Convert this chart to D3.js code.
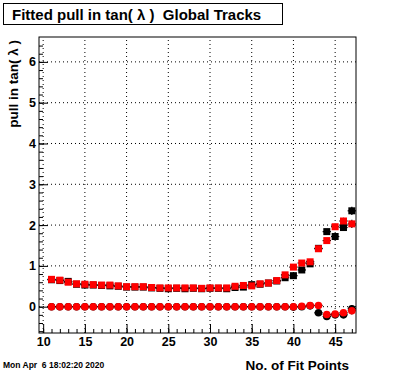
<!DOCTYPE html>
<html>
<head>
<meta charset="utf-8">
<script src="https://cdn.jsdelivr.net/npm/d3@7"></script>
<style>
  body { margin: 0; background: #fff; }
  svg { display: block; font-family: "Liberation Sans", Arial, sans-serif; font-weight: bold; }
  svg text { white-space: pre; }
</style>
</head>
<body>
<div id="chart"></div>
<script>
// number of fit points (bin centres)
const nFit = d3.range(11, 48);

// fitted sigma of the pull (squares)
const redSigma = [0.67, 0.65, 0.60, 0.56, 0.55, 0.54, 0.53, 0.53, 0.51, 0.49,
  0.49, 0.49, 0.47, 0.46, 0.46, 0.46, 0.46, 0.46, 0.45, 0.46,
  0.46, 0.46, 0.50, 0.52, 0.51, 0.56, 0.58, 0.64, 0.78, 0.97,
  1.07, 1.10, 1.42, 1.62, 1.96, 2.10, 2.03];
const blackSigma = [0.66, 0.64, 0.62, 0.55, 0.53, 0.53, 0.52, 0.51, 0.50, 0.48,
  0.48, 0.48, 0.46, 0.45, 0.44, 0.45, 0.44, 0.45, 0.44, 0.45,
  0.45, 0.44, 0.47, 0.48, 0.54, 0.55, 0.58, 0.63, 0.71, 0.76,
  0.90, 1.05, 1.43, 1.84, 1.72, 1.94, 2.35];

// fitted mean of the pull (circles)
const redMean = [0, 0, 0, 0, 0, 0, 0, 0, 0, 0,
  0, 0, 0, 0, 0, 0, 0, 0, 0, 0,
  0, 0, 0, 0, 0, 0, 0, 0, 0, 0,
  0.01, 0.03, 0.03, -0.19, -0.18, -0.15, -0.10];
const blackMean = [0, 0, 0, 0, 0, 0, 0, 0, 0, 0,
  0, 0, 0, 0, 0, 0, 0, 0, 0, 0,
  0, 0, 0, 0, 0, 0, 0, 0, 0, -0.01,
  0, 0.02, -0.15, -0.24, -0.20, -0.20, -0.05];

// errors on the fitted values
const sigmaErr = [0.01, 0.01, 0.01, 0.01, 0.01, 0.01, 0.01, 0.01, 0.01, 0.01,
  0.01, 0.01, 0.01, 0.01, 0.01, 0.01, 0.01, 0.01, 0.01, 0.01,
  0.01, 0.01, 0.01, 0.01, 0.01, 0.02, 0.02, 0.02, 0.03, 0.03,
  0.04, 0.04, 0.05, 0.06, 0.07, 0.08, 0.10];
const meanErr = [0.01, 0.01, 0.01, 0.01, 0.01, 0.01, 0.01, 0.01, 0.01, 0.01,
  0.01, 0.01, 0.01, 0.01, 0.01, 0.01, 0.01, 0.01, 0.01, 0.01,
  0.01, 0.01, 0.01, 0.01, 0.01, 0.01, 0.02, 0.02, 0.02, 0.03,
  0.03, 0.04, 0.05, 0.05, 0.06, 0.07, 0.09];

const xTicks = [10, 15, 20, 25, 30, 35, 40, 45];
const yTicks = [0, 1, 2, 3, 4, 5, 6];

const W = 396, H = 372;
const margin = {top: 37, right: 40, bottom: 39, left: 39};

const svg = d3.select("#chart").append("svg")
    .attr("width", W)
    .attr("height", H);

const x = d3.scaleLinear().domain([9.5, 47.5]).range([margin.left, W - margin.right]);
const y = d3.scaleLinear().domain([-0.645, 6.61]).range([H - margin.bottom, margin.top]);

// grid
svg.append("g").selectAll("line")
    .data(xTicks)
    .enter().append("line")
    .attr("x1", d => x(d)).attr("x2", d => x(d))
    .attr("y1", y.range()[0]).attr("y2", y.range()[1])
    .attr("stroke", "#000").attr("stroke-dasharray", "1,3");
svg.append("g").selectAll("line")
    .data(yTicks)
    .enter().append("line")
    .attr("y1", d => y(d)).attr("y2", d => y(d))
    .attr("x1", x.range()[0]).attr("x2", x.range()[1])
    .attr("stroke", "#000").attr("stroke-dasharray", "1,3");

// axes, ticks pointing in
svg.append("g")
    .attr("transform", `translate(0,${y.range()[0]})`)
    .call(d3.axisBottom(x).tickValues(xTicks).tickSizeInner(-9).tickSizeOuter(0).tickPadding(4).tickFormat(d3.format("d")));
svg.append("g")
    .attr("transform", `translate(0,${y.range()[0]})`)
    .call(d3.axisBottom(x).tickValues(d3.range(10, 48)).tickSizeInner(-4).tickSizeOuter(0).tickFormat(""));

svg.append("g")
    .attr("transform", `translate(${x.range()[0]},0)`)
    .call(d3.axisLeft(y).tickValues(yTicks).tickSizeInner(-9).tickSizeOuter(0).tickPadding(3).tickFormat(d3.format("d")));
svg.append("g")
    .attr("transform", `translate(${x.range()[0]},0)`)
    .call(d3.axisLeft(y).tickValues(d3.range(-3, 33).map(d => d / 5)).tickSizeInner(-4).tickSizeOuter(0).tickFormat(""));

svg.selectAll(".domain").remove();
svg.selectAll(".tick line").attr("stroke", "#000");
svg.selectAll(".tick text")
    .attr("fill", "#000")
    .style("font-size", "12.5px")
    .style("font-weight", "bold")
    .style("font-family", "'Liberation Sans', Arial, sans-serif");

// frame
svg.append("rect")
    .attr("x", x.range()[0]).attr("y", y.range()[1])
    .attr("width", x.range()[1] - x.range()[0])
    .attr("height", y.range()[0] - y.range()[1])
    .attr("fill", "none").attr("stroke", "#000");

function drawSeries(vals, errs, color, shape) {
    const pts = nFit.map((k, i) => ({k: k, v: vals[i], e: errs[i]}));
    const g = svg.append("g");
    // error bars
    g.selectAll(".hbar").data(pts).enter().append("line")
        .attr("x1", d => x(d.k - 0.5)).attr("x2", d => x(d.k + 0.5))
        .attr("y1", d => y(d.v)).attr("y2", d => y(d.v))
        .attr("stroke", "#000").attr("stroke-width", 1.2);
    g.selectAll(".vbar").data(pts).enter().append("line")
        .attr("x1", d => x(d.k)).attr("x2", d => x(d.k))
        .attr("y1", d => y(d.v - d.e)).attr("y2", d => y(d.v + d.e))
        .attr("stroke", "#000").attr("stroke-width", 1.2);
    if (shape === "square") {
        g.selectAll(".m").data(pts).enter().append("rect")
            .attr("x", d => x(d.k) - 3.5).attr("y", d => y(d.v) - 3.5)
            .attr("width", 7).attr("height", 7)
            .attr("fill", color);
    } else {
        g.selectAll(".m").data(pts).enter().append("circle")
            .attr("cx", d => x(d.k)).attr("cy", d => y(d.v))
            .attr("r", 3.8)
            .attr("fill", color);
    }
}

drawSeries(blackSigma, sigmaErr, "#000", "square");
drawSeries(blackMean, meanErr, "#000", "circle");
drawSeries(redSigma, sigmaErr, "#ff0000", "square");
drawSeries(redMean, meanErr, "#ff0000", "circle");

// title box
svg.append("rect")
    .attr("x", 3.5).attr("y", 3.5).attr("width", 279).attr("height", 21)
    .attr("fill", "#fff").attr("stroke", "#000");
svg.append("text")
    .attr("x", 12).attr("y", 19.5)
    .style("font-size", "15px")
    .text("Fitted pull in tan( \u03bb )  Global Tracks");

// axis titles
svg.append("text")
    .attr("transform", `translate(18,40) rotate(-90)`)
    .attr("text-anchor", "end")
    .style("font-size", "13.5px")
    .text("pull in tan( \u03bb )");

svg.append("text")
    .attr("x", 349).attr("y", 370)
    .attr("text-anchor", "end")
    .style("font-size", "13.5px")
    .text("No. of Fit Points");

svg.append("text")
    .attr("x", 3).attr("y", 368)
    .style("font-size", "8.5px")
    .text("Mon Apr  6 18:02:20 2020");
</script>
</body>
</html>
